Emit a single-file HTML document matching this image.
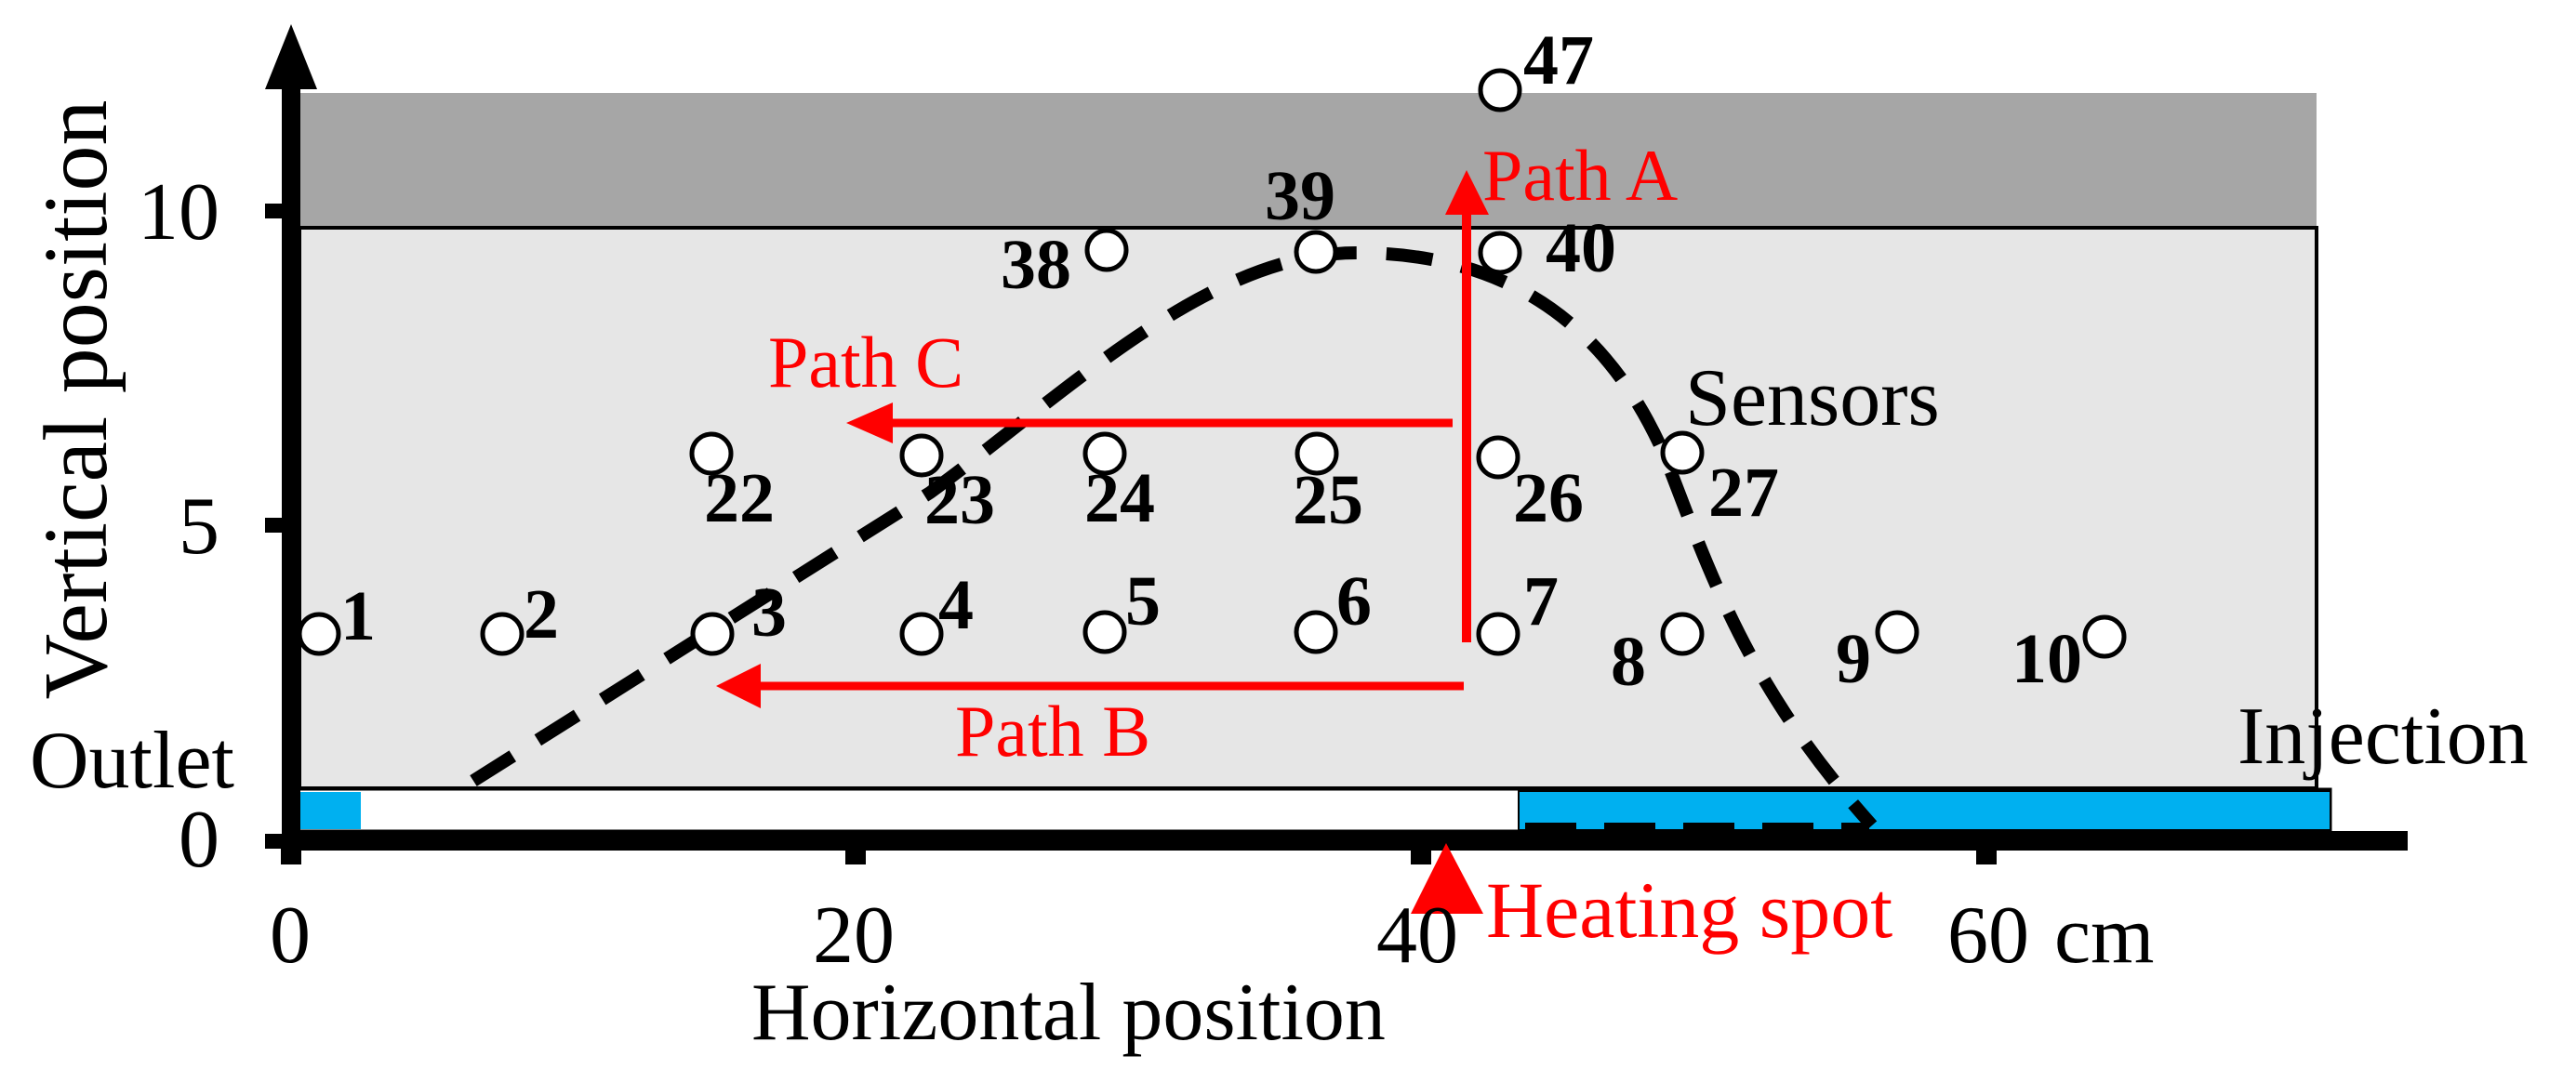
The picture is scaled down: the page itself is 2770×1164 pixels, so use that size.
<!DOCTYPE html>
<html><head><meta charset="utf-8"><style>
html,body{margin:0;padding:0;background:#fff}
svg{display:block}
text{font-family:"Liberation Serif",serif}
.n{font-weight:bold;font-size:76px;fill:#000}
.r{fill:#f00;font-size:78px}
.k{fill:#000;font-size:88px}
</style></head><body>
<svg width="2770" height="1164" viewBox="0 0 2770 1164" xmlns="http://www.w3.org/2000/svg">
<rect x="322" y="100" width="2169" height="145" fill="#a6a6a6"/>
<rect x="322" y="245" width="2169" height="603" fill="#e6e6e6" stroke="#000" stroke-width="4"/>
<rect x="314" y="849" width="2192" height="45" fill="#fff" stroke="#000" stroke-width="3"/>
<rect x="314" y="852" width="74" height="40" fill="#00b0f0"/>
<rect x="1633" y="851" width="873" height="42" fill="#00b0f0" stroke="#000" stroke-width="2"/>
<path d="M509,840 L1000,530 C1150,420 1300,272 1459,272 C1600,272 1720,330 1790,490 C1840,620 1880,740 2013,888" fill="none" stroke="#000" stroke-width="14" stroke-dasharray="50,32"/>
<line x1="1640" y1="889" x2="2010" y2="889" stroke="#000" stroke-width="8" stroke-dasharray="55,30"/>
<rect x="303" y="88" width="20" height="828" fill="#000"/>
<polygon points="313,26 285,96 341,96" fill="#000"/>
<rect x="303" y="894" width="2286" height="21" fill="#000"/>
<rect x="285" y="219" width="22" height="16" fill="#000"/>
<rect x="285" y="557" width="22" height="16" fill="#000"/>
<rect x="285" y="897" width="22" height="16" fill="#000"/>
<rect x="302" y="910" width="22" height="20" fill="#000"/>
<rect x="909" y="910" width="22" height="20" fill="#000"/>
<rect x="1517" y="910" width="22" height="20" fill="#000"/>
<rect x="2125" y="910" width="22" height="20" fill="#000"/>
<line x1="1577" y1="691" x2="1577" y2="225" stroke="#f00" stroke-width="10"/>
<polygon points="1577,183 1554,231 1601,231" fill="#f00"/>
<line x1="1562" y1="455" x2="955" y2="455" stroke="#f00" stroke-width="9"/>
<polygon points="910,455 960,433 960,477" fill="#f00"/>
<line x1="1574" y1="738" x2="812" y2="738" stroke="#f00" stroke-width="9"/>
<polygon points="770,738 818,714 818,762" fill="#f00"/>
<polygon points="1555,907 1517,983 1595,983" fill="#f00"/>
<g fill="#fff" stroke="#000" stroke-width="5">
<circle cx="343" cy="682" r="21"/><circle cx="540" cy="682" r="21"/><circle cx="766" cy="682" r="21"/>
<circle cx="991" cy="682" r="21"/><circle cx="1188" cy="680" r="21"/><circle cx="1415" cy="680" r="21"/>
<circle cx="1611" cy="682" r="21"/><circle cx="1809" cy="682" r="21"/><circle cx="2040" cy="680" r="21"/>
<circle cx="2263" cy="685" r="21"/>
<circle cx="765" cy="488" r="21"/><circle cx="991" cy="490" r="21"/><circle cx="1188" cy="488" r="21"/>
<circle cx="1416" cy="488" r="21"/><circle cx="1611" cy="492" r="21"/><circle cx="1809" cy="487" r="21"/>
<circle cx="1190" cy="269" r="21"/><circle cx="1415" cy="271" r="21"/><circle cx="1613" cy="272" r="21"/>
<circle cx="1613" cy="97" r="21"/>
</g>
<g class="n">
<text x="366" y="688">1</text><text x="563" y="686">2</text><text x="808" y="684">3</text>
<text x="1009" y="676">4</text><text x="1210" y="672">5</text><text x="1437" y="672">6</text>
<text x="1638" y="672">7</text><text x="1732" y="737">8</text><text x="1974" y="734">9</text>
<text x="2163" y="734">10</text>
<text x="757" y="561">22</text><text x="994" y="563">23</text><text x="1166" y="561">24</text>
<text x="1390" y="563">25</text><text x="1627" y="561">26</text><text x="1837" y="555">27</text>
<text x="1076" y="310">38</text><text x="1360" y="236">39</text><text x="1662" y="292">40</text>
<text x="1638" y="90">47</text>
</g>
<text class="r" x="1594" y="215">Path A</text>
<text class="r" x="826" y="416">Path C</text>
<text class="r" x="1027" y="813">Path B</text>
<text class="r" x="1598" y="1008" style="font-size:86px">Heating spot</text>
<text class="k" x="1812" y="457">Sensors</text>
<text class="k" x="2406" y="821">Injection</text>
<text class="k" x="32" y="847">Outlet</text>
<text class="k" x="808" y="1118">Horizontal position</text>
<text class="k" transform="translate(114,430) rotate(-90)" text-anchor="middle" style="font-size:98px">Vertical position</text>
<text class="k" x="236" y="257" text-anchor="end">10</text>
<text class="k" x="236" y="595" text-anchor="end">5</text>
<text class="k" x="236" y="932" text-anchor="end">0</text>
<text class="k" x="312" y="1035" text-anchor="middle">0</text>
<text class="k" x="918" y="1035" text-anchor="middle">20</text>
<text class="k" x="1524" y="1035" text-anchor="middle">40</text>
<text class="k" x="2094" y="1035">60</text>
<text class="k" x="2209" y="1035">cm</text>
</svg>
</body></html>
